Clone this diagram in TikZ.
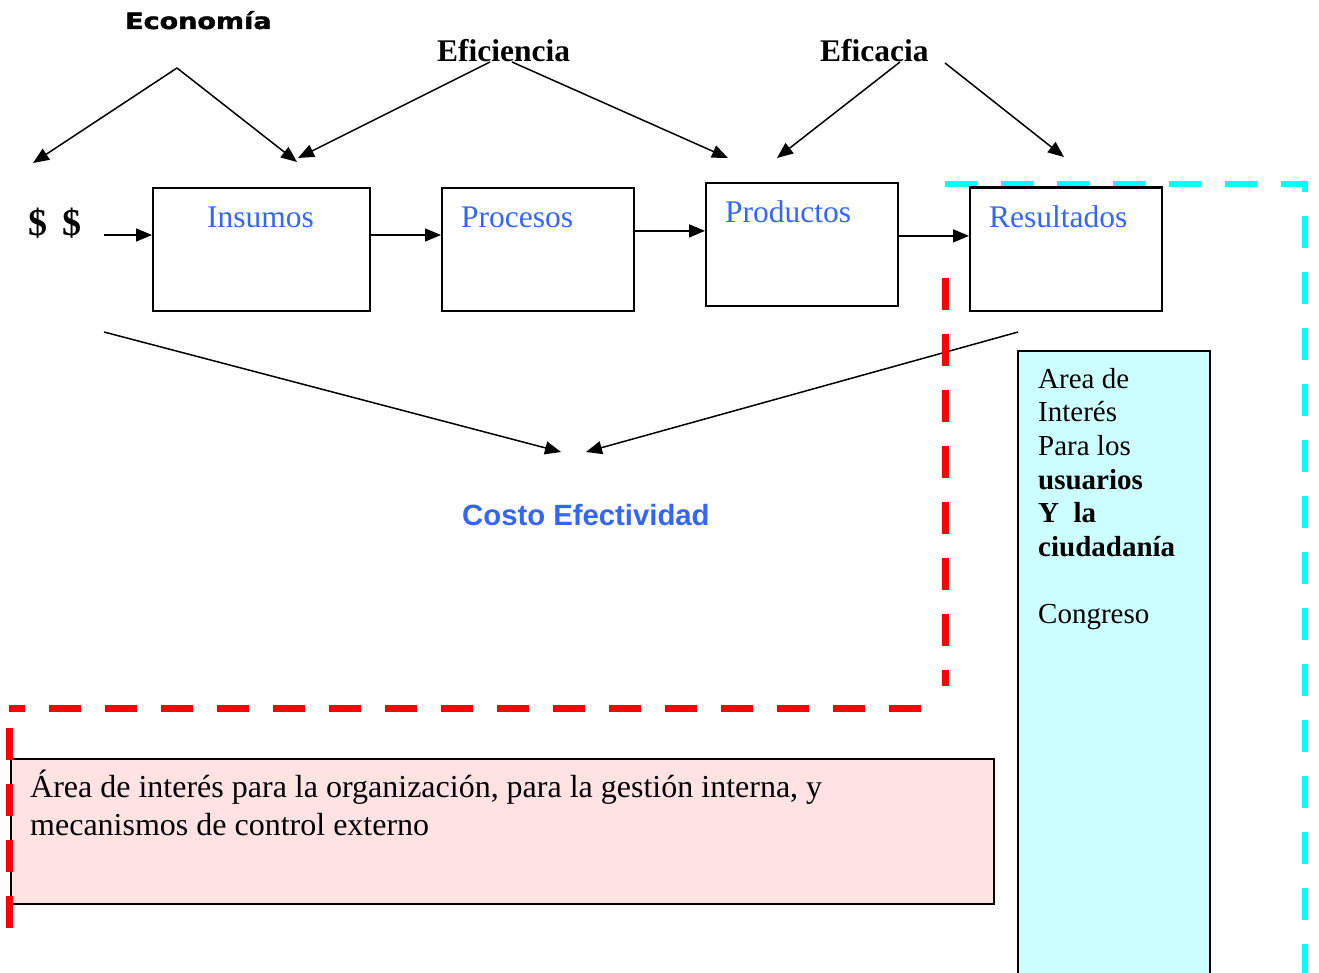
\documentclass[tikz,border=0pt]{standalone}
\usepackage{fontspec}
\usepackage{graphicx}
\setmainfont{Liberation Serif}
\newfontfamily\arialf{Liberation Sans}
\newfontfamily\heavyf[FakeBold=1.6]{DejaVu Sans}
\usetikzlibrary{arrows.meta}
\definecolor{txtblue}{RGB}{51,102,255}
\definecolor{cyanfill}{RGB}{204,255,255}
\definecolor{dashcyan}{RGB}{0,255,255}
\definecolor{dashred}{RGB}{255,0,0}
\definecolor{pinkfill}{RGB}{255,226,226}
\begin{document}
\begin{tikzpicture}[x=1pt,y=-1pt,
  flowbox/.style={draw, line width=1.8pt, anchor=north west, inner sep=0pt},
  lbl/.style={anchor=base west, inner sep=0pt},
  boxtxt/.style={lbl, text=txtblue, font=\fontsize{31.5}{37}\selectfont},
  hdr/.style={lbl, font=\fontsize{31.5}{37}\selectfont\bfseries},
  sidetxt/.style={lbl, font=\fontsize{29}{33.5}\selectfont},
  pinktxt/.style={lbl, font=\fontsize{32}{37}\selectfont},
  arr/.style={line width=1.5pt, -{Triangle[length=16pt,width=13pt]}},
  reddash/.style={draw=dashred, line width=7pt, dash pattern=on 32pt off 24pt},
  cyandash/.style={draw=dashcyan, line width=6pt, dash pattern=on 32pt off 24pt}]
\useasboundingbox (0,0) rectangle (1319,973);
% background areas
\node[draw, line width=1.8pt, fill=pinkfill, anchor=north west, inner sep=0pt,
  minimum width=983pt, minimum height=145pt] (pinkbox) at (10,758) {};
\node[draw, line width=1.8pt, fill=cyanfill, anchor=north west, inner sep=0pt,
  minimum width=192pt, minimum height=640pt] (cyanbox) at (1017,350) {};
% texts
\node[lbl] (econ) at (125,29) {\heavyf\bfseries\fontsize{22.5}{26}\selectfont\scalebox{1.2}[1]{Economía}};
\node[hdr] (efic) at (437,62) {Eficiencia};
\node[hdr] (efca) at (820,62) {Eficacia};
\node[lbl, font=\fontsize{38}{44}\selectfont\bfseries] (dollar) at (28,236) {\$\hspace{15pt}\$};
\node[lbl, text=txtblue, font=\arialf\bfseries\fontsize{29.3}{34}\selectfont] (costo) at (462,525) {Costo Efectividad};
% flow boxes
\node[flowbox, minimum width=217pt, minimum height=123pt] (ins) at (152,187) {};
\node[flowbox, minimum width=192pt, minimum height=123pt] (proc) at (441,187) {};
\node[flowbox, minimum width=192pt, minimum height=123pt] (prod) at (705,182) {};
\node[flowbox, minimum width=192pt, minimum height=123pt] (res) at (969,187) {};
\node[boxtxt] (insl) at (207,228) {Insumos};
\node[boxtxt] (procl) at (461,228) {Procesos};
\node[boxtxt] (prodl) at (725,223) {Productos};
\node[boxtxt] (resl) at (989,228) {Resultados};
% side text
\node[sidetxt] (c1) at (1038,388) {Area de};
\node[sidetxt] (c2) at (1038,421) {Interés};
\node[sidetxt] (c3) at (1038,455) {Para los};
\node[sidetxt, font=\fontsize{29}{33.5}\selectfont\bfseries] (c4) at (1038,489) {usuarios};
\node[sidetxt, font=\fontsize{29}{33.5}\selectfont\bfseries] (c5) at (1038,522) {Y\ \ la};
\node[sidetxt, font=\fontsize{29}{33.5}\selectfont\bfseries] (c6) at (1038,556) {ciudadanía};
\node[sidetxt] (c7) at (1038,623) {Congreso};
\node[pinktxt] (p1) at (30,797) {Área de interés para la organización, para la gestión interna, y};
\node[pinktxt] (p2) at (30,835) {mecanismos de control externo};
% coordinates for connector ends
\coordinate (eapex) at (177,68);
\coordinate (eL) at (33,163);
\coordinate (eR) at (297,162);
\coordinate (fs1) at (490,62);
\coordinate (fs2) at (512,62);
\coordinate (fL) at (298,158);
\coordinate (fR) at (728,158);
\coordinate (as1) at (900,62);
\coordinate (as2) at (945,63);
\coordinate (aL) at (777,158);
\coordinate (aR) at (1064,157);
\coordinate (d0) at (104,235);
\coordinate (bl) at (104,332);
\coordinate (br) at (1018,332);
\coordinate (tl) at (561,452);
\coordinate (tr) at (586,452);
% top arrows
\draw[arr] (eapex) -- (eL);
\draw[arr] (eapex) -- (eR);
\draw[arr] (fs1) -- (fL);
\draw[arr] (fs2) -- (fR);
\draw[arr] (as1) -- (aL);
\draw[arr] (as2) -- (aR);
% flow arrows
\draw[arr] (d0) -- (d0 -| ins.west);
\draw[arr] (ins.east |- d0) -- (proc.west |- d0);
\coordinate (pp) at ([yshift=13.5pt]prod.west);
\draw[arr] (proc.east |- pp) -- (pp);
\coordinate (rr) at ([yshift=13.5pt]res.west);
\draw[arr] (prod.east |- rr) -- (rr);
% bottom arrows
\draw[arr] (bl) -- (tl);
\draw[arr] (br) -- (tr);
% dashed areas
\coordinate (r1) at (945,278);
\coordinate (r2) at (945,686);
\coordinate (r3) at (921,708);
\coordinate (r4) at (9,708);
\coordinate (r5) at (9,728);
\coordinate (r6) at (9,930);
\draw[reddash] (r1) -- (r2);
\draw[reddash] (r3) -- (r4);
\draw[reddash] (r5) -- (r6);
\coordinate (k1) at (945,184);
\coordinate (k2) at (1305,184);
\coordinate (k3) at (1305,980);
\draw[cyandash] (k1) -- (k2) -- (k3);
% redraw top border of the last box over the dashes
\draw[line width=1.8pt] (res.north west) -- (res.north east);
\end{tikzpicture}
\end{document}
